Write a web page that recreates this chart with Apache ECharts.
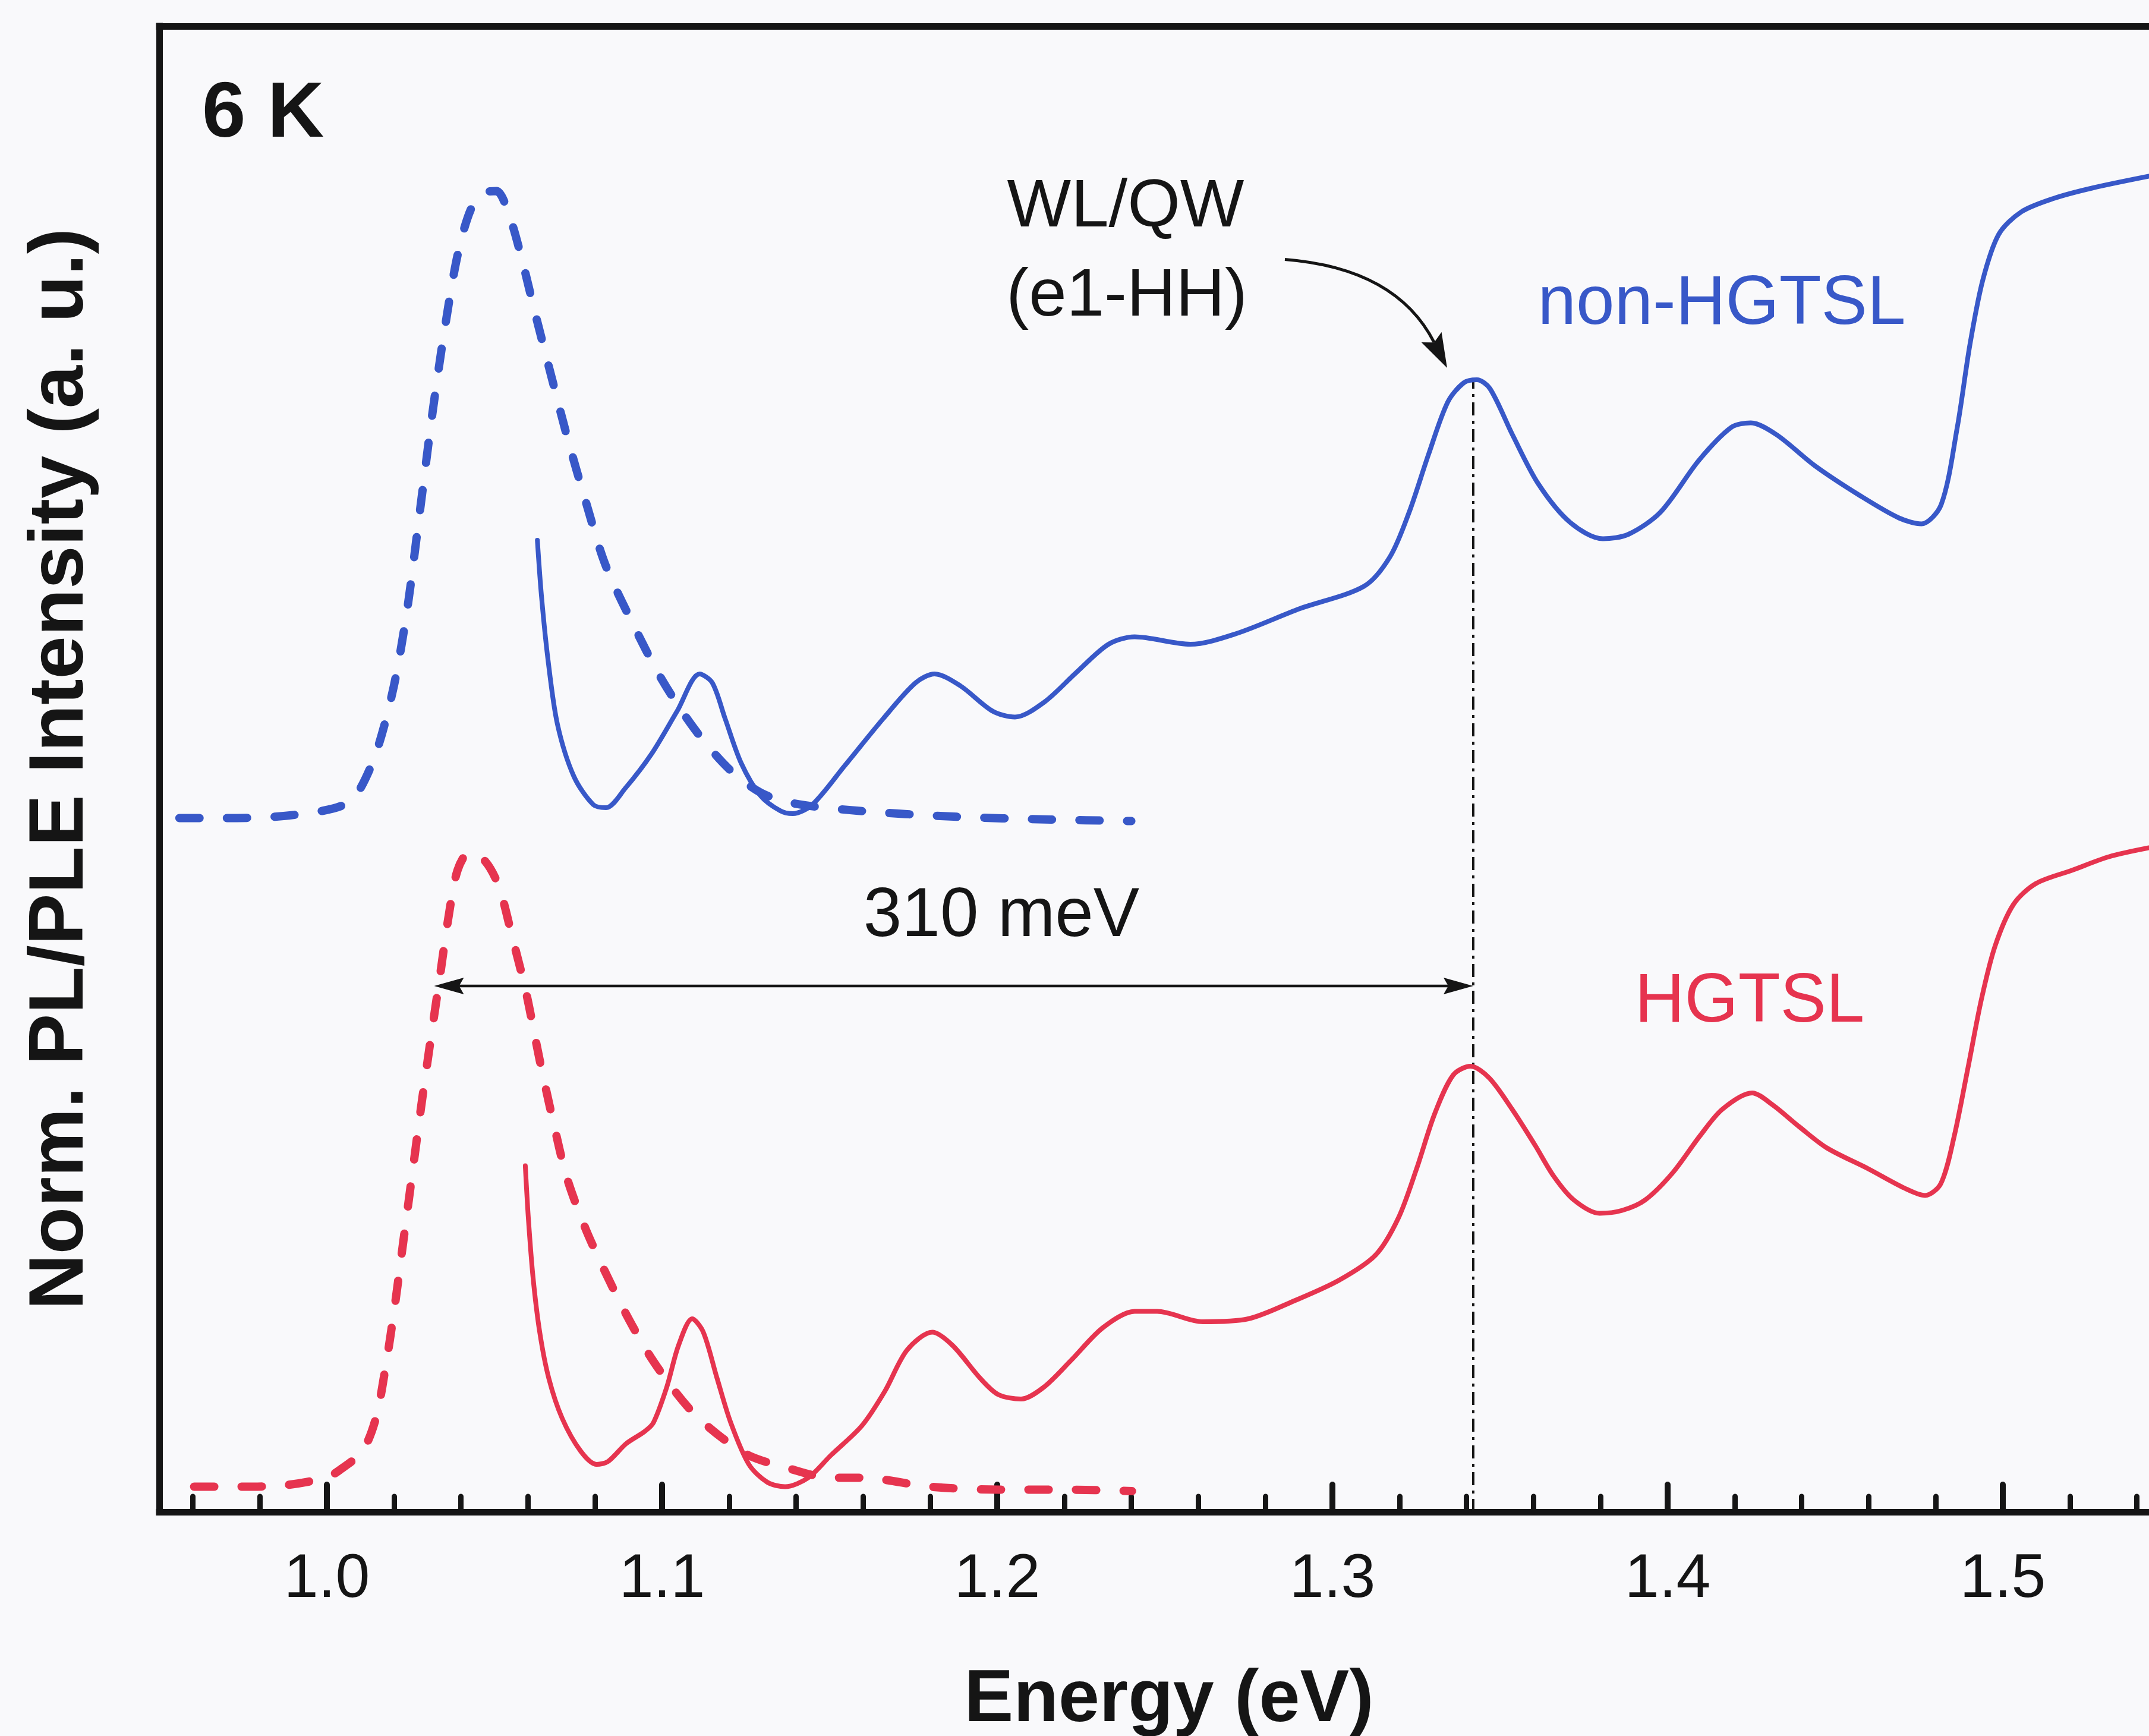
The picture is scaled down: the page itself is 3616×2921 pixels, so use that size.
<!DOCTYPE html>
<html>
<head>
<meta charset="utf-8">
<script src="https://cdn.jsdelivr.net/npm/echarts@6/dist/echarts.min.js"></script>
<style>
  html, body { margin: 0; padding: 0; background: #f9f9fb; overflow: hidden; }
  #chart { width: 3616px; height: 2921px; }
</style>
</head>
<body>
<div id="chart"></div>
<script>
// ---- Spectra at 6 K: photon energy (eV) and normalised intensity (a. u., offset) ----

// non-HGTSL photoluminescence (dashed)
const plNonE = [0.956, 0.970, 0.985, 0.999, 1.006, 1.010, 1.015, 1.020, 1.024, 1.0275, 1.0314, 1.035, 1.039, 1.043, 1.047, 1.0506, 1.0545, 1.0583, 1.062, 1.067, 1.072, 1.0775, 1.083, 1.091, 1.100, 1.110, 1.120, 1.1295, 1.139, 1.158, 1.187, 1.216, 1.240];
const plNonI = [46.7, 46.7, 46.8, 47.2, 47.7, 48.7, 51.3, 55.6, 60.8, 66.9, 73.8, 79.4, 84.6, 87.7, 88.8, 88.9, 87.2, 84.2, 80.8, 76.4, 72.1, 67.8, 63.8, 59.9, 56.0, 52.6, 50.0, 48.4, 47.7, 47.2, 46.8, 46.6, 46.5];

// non-HGTSL photoluminescence excitation (solid)
const pleNonE = [1.0628, 1.064, 1.066, 1.0688, 1.0737, 1.0795, 1.0833, 1.089, 1.0968, 1.1045, 1.1112, 1.115, 1.1188, 1.1236, 1.1294, 1.1352, 1.139, 1.1448, 1.1544, 1.166, 1.1756, 1.1813, 1.189, 1.1986, 1.2053, 1.214, 1.2236, 1.2332, 1.241, 1.2576, 1.2711, 1.2903, 1.3094, 1.3172, 1.3229, 1.3287, 1.3344, 1.3392, 1.3431, 1.347, 1.3537, 1.3614, 1.3709, 1.3807, 1.3883, 1.3979, 1.4094, 1.419, 1.4248, 1.4325, 1.444, 1.4574, 1.469, 1.4757, 1.4816, 1.4864, 1.4902, 1.494, 1.4988, 1.5055, 1.5151, 1.5266, 1.5436];
const pleNonI = [65.4, 61.7, 57.3, 53.0, 49.5, 47.6, 47.4, 48.7, 51.0, 53.9, 56.4, 55.8, 53.4, 50.4, 48.2, 47.2, 47.0, 47.6, 50.2, 53.4, 55.8, 56.4, 55.6, 53.9, 53.5, 54.5, 56.5, 58.4, 58.9, 58.4, 59.1, 60.8, 62.3, 64.3, 67.3, 71.2, 74.7, 76.0, 76.2, 75.6, 72.5, 69.2, 66.6, 65.5, 65.8, 67.3, 70.8, 73.0, 73.3, 72.5, 70.4, 68.4, 66.9, 66.5, 67.8, 73.0, 78.6, 82.9, 86.0, 87.5, 88.4, 89.1, 89.9];

// HGTSL photoluminescence (dashed)
const plHgE = [0.9604, 0.974, 0.9875, 0.9997, 1.0037, 1.0106, 1.0146, 1.0174, 1.0201, 1.0228, 1.0255, 1.0282, 1.0309, 1.0337, 1.0364, 1.039, 1.0425, 1.0472, 1.0513, 1.0553, 1.0594, 1.0635, 1.0676, 1.0716, 1.0771, 1.0825, 1.0893, 1.0961, 1.1029, 1.1096, 1.1178, 1.1259, 1.1367, 1.1504, 1.1596, 1.18, 1.2004, 1.2206, 1.2402];
const plHgI = [1.7, 1.7, 1.8, 2.3, 2.8, 4.1, 6.3, 9.6, 13.6, 18.2, 22.8, 27.4, 31.7, 36.0, 40.2, 43.2, 44.4, 43.8, 42.1, 38.7, 35.0, 30.4, 26.2, 22.5, 19.1, 16.4, 13.3, 10.6, 8.4, 6.6, 5.0, 3.8, 3.0, 2.3, 2.3, 1.7, 1.5, 1.5, 1.4];

// HGTSL photoluminescence excitation (solid)
const pleHgE = [1.0592, 1.0601, 1.0615, 1.0635, 1.0662, 1.0702, 1.0757, 1.0805, 1.0839, 1.0893, 1.0947, 1.0974, 1.1014, 1.1049, 1.109, 1.1123, 1.1164, 1.1205, 1.1259, 1.1314, 1.1367, 1.1436, 1.1503, 1.1596, 1.1664, 1.1731, 1.1806, 1.1867, 1.1949, 1.2003, 1.2071, 1.2139, 1.222, 1.2315, 1.241, 1.2477, 1.2613, 1.2749, 1.2885, 1.302, 1.3129, 1.3197, 1.3251, 1.3305, 1.336, 1.3412, 1.3468, 1.3536, 1.3604, 1.3660, 1.3720, 1.3797, 1.3865, 1.3933, 1.4014, 1.4096, 1.4163, 1.4252, 1.4313, 1.4394, 1.4475, 1.4598, 1.4706, 1.4768, 1.4815, 1.4855, 1.4896, 1.4936, 1.4977, 1.5032, 1.5099, 1.5208, 1.5317, 1.5436];
const pleHgI = [23.3, 19.8, 15.8, 12.1, 9.0, 6.3, 4.1, 3.2, 3.4, 4.6, 5.4, 6.0, 8.4, 11.2, 13.0, 12.1, 9.0, 6.0, 3.2, 2.0, 1.7, 2.3, 3.8, 5.8, 8.1, 10.9, 12.1, 11.2, 9.0, 7.9, 7.6, 8.4, 10.2, 12.4, 13.5, 13.5, 12.8, 13.0, 14.2, 15.6, 17.3, 19.8, 23.1, 26.8, 29.4, 30.0, 29.2, 27.1, 24.7, 22.6, 21.0, 20.1, 20.3, 21.0, 22.8, 25.3, 27.1, 28.2, 27.4, 25.9, 24.5, 23.1, 21.8, 21.3, 22.1, 25.3, 29.9, 34.5, 38.1, 40.9, 42.3, 43.2, 44.1, 44.7];

// Energy axis ticks
const majorTicks = [1.0, 1.1, 1.2, 1.3, 1.4, 1.5];
const minorTicks = [0.96, 0.98, 1.02, 1.04, 1.06, 1.08, 1.12, 1.14, 1.16, 1.18, 1.22, 1.24, 1.26, 1.28, 1.32, 1.34, 1.36, 1.38, 1.42, 1.44, 1.46, 1.48, 1.52, 1.54];

// WL/QW (e1-HH) transition and its splitting from the PL peak
const wlPeakE = 1.342;          // eV
const splittingMeV = 310;       // meV
const splittingLevel = 35.4;    // height of the double arrow
const guideTop = 76.2;          // top of the dash-dot guide (blue WL peak)
const wlArrowFrom = [1.2858, 84.3];
const wlArrowTo = [1.3342, 77.0];

const E_MIN = 0.95;
const E_MAX = 1.5436;

const FONT = "'Liberation Sans', Arial, Helvetica, sans-serif";
const INK = '#151515';
const BLUE = '#3858c8';
const RED = '#e6344f';

const pairs = (xs, ys) => xs.map((x, i) => [x, ys[i]]);

function unit(a, b) {
  const dx = b[0] - a[0], dy = b[1] - a[1];
  const l = Math.hypot(dx, dy) || 1;
  return [dx / l, dy / l];
}
// filled, slightly notched arrowhead with its tip at `tip`, pointing along `dir`
function arrowHead(tip, dir, len, half, notch) {
  const n = [-dir[1], dir[0]];
  const bx = tip[0] - dir[0] * len, by = tip[1] - dir[1] * len;
  return [
    tip,
    [bx + n[0] * half, by + n[1] * half],
    [tip[0] - dir[0] * (len - notch), tip[1] - dir[1] * (len - notch)],
    [bx - n[0] * half, by - n[1] * half]
  ];
}

const dashedStyle = (color) => ({ color, width: 14, type: [34, 46], cap: 'round', join: 'round' });
const solidStyle = (color) => ({ color, width: 8, cap: 'round', join: 'round' });

const lineSeries = (name, data, style) => ({
  name, type: 'line', data, showSymbol: false, symbol: 'none', smooth: 0.3,
  lineStyle: style, itemStyle: { color: style.color }, z: 3, silent: true
});

const chart = echarts.init(document.getElementById('chart'), null, { renderer: 'canvas' });

const axisInk = { color: INK, width: 11, cap: 'square' };

chart.setOption({
  backgroundColor: '#f9f9fb',
  animation: false,
  grid: { left: 268, right: 0, top: 44, bottom: 377, containLabel: false, outerBoundsMode: 'none' },
  xAxis: [
    {
      type: 'value', position: 'bottom', min: E_MIN, max: E_MAX,
      axisLine: { show: true, lineStyle: axisInk },
      axisTick: { show: true, inside: true, length: 46, customValues: majorTicks, lineStyle: { color: INK, width: 10, cap: 'round' } },
      axisLabel: {
        show: true, customValues: majorTicks, margin: 62,
        formatter: (v) => v.toFixed(1),
        fontSize: 104, fontFamily: FONT, color: INK
      },
      splitLine: { show: false },
      name: 'Energy (eV)', nameLocation: 'middle', nameGap: 318,
      nameTextStyle: { fontSize: 124, fontWeight: 'bold', fontFamily: FONT, color: INK, verticalAlign: 'middle', padding: [0, 0, 0, 50] }
    },
    {
      type: 'value', position: 'bottom', min: E_MIN, max: E_MAX,
      axisLine: { show: false },
      axisTick: { show: true, inside: true, length: 26, customValues: minorTicks, lineStyle: { color: INK, width: 9, cap: 'round' } },
      axisLabel: { show: false },
      splitLine: { show: false }
    },
    {
      type: 'value', position: 'top', min: E_MIN, max: E_MAX,
      axisLine: { show: true, lineStyle: axisInk },
      axisTick: { show: false }, axisLabel: { show: false }, splitLine: { show: false }
    }
  ],
  yAxis: {
    type: 'value', min: 0, max: 100,
    axisLine: { show: true, lineStyle: axisInk },
    axisTick: { show: false }, axisLabel: { show: false }, splitLine: { show: false },
    name: 'Norm. PL/PLE Intensity (a. u.)', nameLocation: 'middle', nameGap: 165,
    nameTextStyle: { fontSize: 130, fontWeight: 'bold', fontFamily: FONT, color: INK, verticalAlign: 'middle', align: 'center' }
  },
  series: [
    lineSeries('non-HGTSL PL', pairs(plNonE, plNonI), dashedStyle(BLUE)),
    lineSeries('non-HGTSL PLE', pairs(pleNonE, pleNonI), solidStyle(BLUE)),
    lineSeries('HGTSL PL', pairs(plHgE, plHgI), dashedStyle(RED)),
    lineSeries('HGTSL PLE', pairs(pleHgE, pleHgI), solidStyle(RED)),
    {
      // dash-dot guide through the WL/QW peaks
      name: 'WL guide', type: 'custom', silent: true, z: 2,
      data: [[wlPeakE, 0, guideTop]],
      encode: { x: 0, y: [1, 2] },
      renderItem: (params, api) => {
        const a = api.coord([api.value(0), api.value(1)]);
        const b = api.coord([api.value(0), api.value(2)]);
        return {
          type: 'line',
          shape: { x1: a[0], y1: a[1], x2: b[0], y2: b[1] },
          style: { stroke: INK, lineWidth: 4, lineDash: [22, 9, 5, 9], fill: null }
        };
      }
    },
    {
      // double arrow spanning the PL-to-WL splitting
      name: 'splitting', type: 'custom', silent: true, z: 4,
      data: [[wlPeakE - splittingMeV / 1000, wlPeakE, splittingLevel]],
      encode: { x: [0, 1], y: 2 },
      renderItem: (params, api) => {
        const a = api.coord([api.value(0), api.value(2)]);
        const b = api.coord([api.value(1), api.value(2)]);
        const d = unit(a, b);
        const L = 50, W = 14, N = 8;
        return {
          type: 'group',
          children: [
            { type: 'line', shape: { x1: a[0] + d[0] * (L - N), y1: a[1] + d[1] * (L - N), x2: b[0] - d[0] * (L - N), y2: b[1] - d[1] * (L - N) },
              style: { stroke: INK, lineWidth: 4.5, fill: null } },
            { type: 'polygon', shape: { points: arrowHead(b, d, L, W, N) }, style: { fill: INK } },
            { type: 'polygon', shape: { points: arrowHead(a, [-d[0], -d[1]], L, W, N) }, style: { fill: INK } }
          ]
        };
      }
    },
    {
      // curved pointer from the WL/QW label to the peak
      name: 'WL pointer', type: 'custom', silent: true, z: 4,
      data: [[wlArrowFrom[0], wlArrowFrom[1], wlArrowTo[0], wlArrowTo[1]]],
      encode: { x: [0, 2], y: [1, 3] },
      renderItem: (params, api) => {
        const a = api.coord([api.value(0), api.value(1)]);
        const b = api.coord([api.value(2), api.value(3)]);
        const c = 0.28;
        const cp = [(a[0] + b[0]) / 2 - (a[1] - b[1]) * c, (a[1] + b[1]) / 2 - (b[0] - a[0]) * c];
        const d = unit(cp, b);
        const L = 58, W = 19, N = 10;
        return {
          type: 'group',
          children: [
            { type: 'bezierCurve',
              shape: { x1: a[0], y1: a[1], x2: b[0] - d[0] * (L - N), y2: b[1] - d[1] * (L - N), cpx1: cp[0], cpy1: cp[1] },
              style: { stroke: INK, lineWidth: 5, fill: null } },
            { type: 'polygon', shape: { points: arrowHead(b, d, L, W, N) }, style: { fill: INK } }
          ]
        };
      }
    }
  ],
  graphic: [
    { type: 'text', x: 340, y: 194, silent: true,
      style: { text: '6 K', fontSize: 132, fontWeight: 'bold', fontFamily: FONT, fill: INK, align: 'left', verticalAlign: 'middle' } },
    { type: 'text', x: 1894, y: 350, silent: true,
      style: { text: 'WL/QW', fontSize: 114, fontFamily: FONT, fill: INK, align: 'center', verticalAlign: 'middle' } },
    { type: 'text', x: 1896, y: 500, silent: true,
      style: { text: '(e1-HH)', fontSize: 114, fontFamily: FONT, fill: INK, align: 'center', verticalAlign: 'middle' } },
    { type: 'text', x: 2897, y: 513, silent: true,
      style: { text: 'non-HGTSL', fontSize: 116, fontFamily: FONT, fill: BLUE, align: 'center', verticalAlign: 'middle' } },
    { type: 'text', x: 2944, y: 1687, silent: true,
      style: { text: 'HGTSL', fontSize: 116, fontFamily: FONT, fill: RED, align: 'center', verticalAlign: 'middle' } },
    { type: 'text', x: 1685, y: 1543, silent: true,
      style: { text: splittingMeV + ' meV', fontSize: 116, fontFamily: FONT, fill: INK, align: 'center', verticalAlign: 'middle' } }
  ]
});
</script>
</body>
</html>
